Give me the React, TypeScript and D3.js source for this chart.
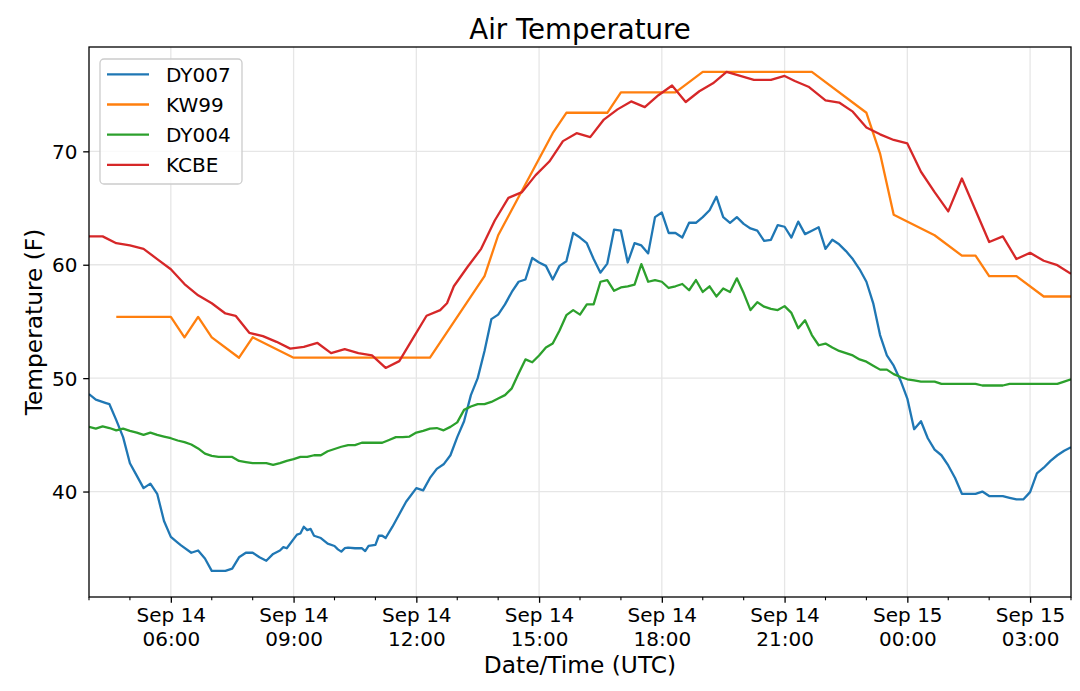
import * as d3 from 'd3';
import React, { FC, useEffect, useRef } from 'react';

// times are "DD HH:MM" in September, UTC
const dy007Times = [
	'14 04:00', '14 04:10', '14 04:25', '14 04:30', '14 04:40', '14 04:50', '14 05:00', '14 05:10', '14 05:20', '14 05:30',
	'14 05:40', '14 05:50', '14 06:00', '14 06:10', '14 06:15', '14 06:30', '14 06:40', '14 06:50', '14 07:00', '14 07:20',
	'14 07:30', '14 07:40', '14 07:50', '14 08:00', '14 08:10', '14 08:20', '14 08:30', '14 08:40', '14 08:45', '14 08:50',
	'14 09:00', '14 09:05', '14 09:10', '14 09:15', '14 09:20', '14 09:25', '14 09:30', '14 09:40', '14 09:50', '14 10:00',
	'14 10:05', '14 10:10', '14 10:15', '14 10:20', '14 10:30', '14 10:40', '14 10:45', '14 10:50', '14 11:00', '14 11:05',
	'14 11:10', '14 11:15', '14 11:25', '14 11:35', '14 11:45', '14 12:00', '14 12:10', '14 12:20', '14 12:30', '14 12:40',
	'14 12:50', '14 13:00', '14 13:10', '14 13:20', '14 13:30', '14 13:40', '14 13:50', '14 14:00', '14 14:10', '14 14:20',
	'14 14:30', '14 14:40', '14 14:50', '14 15:00', '14 15:10', '14 15:20', '14 15:30', '14 15:40', '14 15:50', '14 16:00',
	'14 16:10', '14 16:20', '14 16:30', '14 16:40', '14 16:50', '14 17:00', '14 17:10', '14 17:20', '14 17:30', '14 17:40',
	'14 17:50', '14 18:00', '14 18:10', '14 18:20', '14 18:30', '14 18:40', '14 18:50', '14 19:00', '14 19:10', '14 19:20',
	'14 19:30', '14 19:40', '14 19:50', '14 20:00', '14 20:10', '14 20:20', '14 20:30', '14 20:40', '14 20:50', '14 21:00',
	'14 21:10', '14 21:20', '14 21:30', '14 21:40', '14 21:50', '14 22:00', '14 22:10', '14 22:20', '14 22:30', '14 22:40',
	'14 22:50', '14 23:00', '14 23:10', '14 23:20', '14 23:30', '14 23:40', '14 23:50', '15 00:00', '15 00:10', '15 00:20',
	'15 00:30', '15 00:40', '15 00:50', '15 01:00', '15 01:10', '15 01:20', '15 01:40', '15 01:50', '15 02:00', '15 02:20',
	'15 02:30', '15 02:40', '15 02:50', '15 03:00', '15 03:10', '15 03:20', '15 03:30', '15 03:40', '15 03:50', '15 04:00',
];
const dy007Temps = [
	48.6, 48.1, 47.8, 47.7, 46.3, 44.8, 42.5, 41.4, 40.3, 40.7,
	39.8, 37.4, 36.0, 35.5, 35.25, 34.6, 34.8, 34.1, 33.0, 33.0,
	33.2, 34.2, 34.6, 34.6, 34.2, 33.9, 34.5, 34.8, 35.1, 35.0,
	35.8, 36.2, 36.3, 36.9, 36.6, 36.7, 36.1, 35.9, 35.4, 35.2,
	34.9, 34.7, 35.0, 35.05, 35.0, 35.0, 34.75, 35.2, 35.3, 36.1,
	36.1, 35.9, 36.9, 38.0, 39.1, 40.3, 40.1, 41.2, 42.0, 42.4,
	43.2, 44.8, 46.2, 48.5, 50.0, 52.4, 55.2, 55.6, 56.5, 57.6,
	58.5, 58.7, 60.6, 60.2, 59.9, 58.7, 59.9, 60.3, 62.8, 62.4,
	61.9, 60.5, 59.3, 60.1, 63.1, 63.0, 60.2, 61.9, 61.7, 61.0,
	64.2, 64.6, 62.8, 62.8, 62.4, 63.7, 63.7, 64.2, 64.8, 66.0,
	64.2, 63.7, 64.2, 63.6, 63.2, 63.0, 62.1, 62.2, 63.5, 63.35,
	62.4, 63.8, 62.7, 63.0, 63.3, 61.4, 62.2, 61.8, 61.2, 60.5,
	59.6, 58.5, 56.6, 53.8, 52.0, 51.1, 49.8, 48.2, 45.5, 46.2,
	44.7, 43.7, 43.2, 42.3, 41.2, 39.8, 39.8, 40.0, 39.6, 39.6,
	39.45, 39.3, 39.3, 39.95, 41.6, 42.1, 42.7, 43.2, 43.6, 43.9,
];

const kw99Times = [
	'14 04:40', '14 06:00', '14 06:20', '14 06:40', '14 07:00', '14 07:40', '14 08:00', '14 09:00', '14 12:20', '14 13:40',
	'14 14:00', '14 15:20', '14 15:40', '14 16:40', '14 17:00', '14 18:20', '14 19:00', '14 21:40', '14 23:00', '14 23:20',
	'14 23:40', '15 00:40', '15 01:20', '15 01:40', '15 02:00', '15 02:40', '15 03:20', '15 04:00',
];
const kw99Temps = [
	55.4, 55.4, 53.6, 55.4, 53.6, 51.8, 53.6, 51.8, 51.8, 59.0,
	62.6, 71.6, 73.4, 73.4, 75.2, 75.2, 77.0, 77.0, 73.4, 69.8,
	64.4, 62.6, 60.8, 60.8, 59.0, 59.0, 57.2, 57.2,
];

const dy004Times = [
	'14 04:00', '14 04:10', '14 04:20', '14 04:30', '14 04:40', '14 04:50', '14 05:00', '14 05:10', '14 05:20', '14 05:30',
	'14 05:40', '14 05:50', '14 06:00', '14 06:10', '14 06:20', '14 06:30', '14 06:40', '14 06:50', '14 07:00', '14 07:10',
	'14 07:30', '14 07:40', '14 07:50', '14 08:00', '14 08:20', '14 08:30', '14 08:40', '14 08:50', '14 09:00', '14 09:10',
	'14 09:20', '14 09:30', '14 09:40', '14 09:50', '14 10:00', '14 10:10', '14 10:20', '14 10:30', '14 10:40', '14 11:10',
	'14 11:20', '14 11:30', '14 11:40', '14 11:50', '14 12:00', '14 12:10', '14 12:20', '14 12:30', '14 12:40', '14 12:50',
	'14 13:00', '14 13:10', '14 13:20', '14 13:30', '14 13:40', '14 13:50', '14 14:00', '14 14:10', '14 14:20', '14 14:30',
	'14 14:40', '14 14:50', '14 15:00', '14 15:10', '14 15:20', '14 15:30', '14 15:40', '14 15:50', '14 16:00', '14 16:10',
	'14 16:20', '14 16:30', '14 16:40', '14 16:50', '14 17:00', '14 17:10', '14 17:20', '14 17:30', '14 17:40', '14 17:50',
	'14 18:00', '14 18:10', '14 18:20', '14 18:30', '14 18:40', '14 18:50', '14 19:00', '14 19:10', '14 19:20', '14 19:30',
	'14 19:40', '14 19:50', '14 20:00', '14 20:10', '14 20:20', '14 20:30', '14 20:40', '14 20:50', '14 21:00', '14 21:10',
	'14 21:20', '14 21:30', '14 21:40', '14 21:50', '14 22:00', '14 22:10', '14 22:20', '14 22:30', '14 22:40', '14 22:50',
	'14 23:00', '14 23:10', '14 23:20', '14 23:30', '14 23:40', '14 23:50', '15 00:00', '15 00:10', '15 00:20', '15 00:40',
	'15 00:50', '15 01:40', '15 01:50', '15 02:20', '15 02:30', '15 03:40', '15 03:50', '15 04:00',
];
const dy004Temps = [
	45.7, 45.55, 45.75, 45.6, 45.4, 45.55, 45.35, 45.2, 45.0, 45.2,
	45.0, 44.85, 44.7, 44.5, 44.35, 44.15, 43.8, 43.35, 43.15, 43.05,
	43.05, 42.7, 42.6, 42.5, 42.5, 42.35, 42.5, 42.7, 42.85, 43.05,
	43.05, 43.2, 43.2, 43.55, 43.75, 43.95, 44.1, 44.1, 44.3, 44.3,
	44.55, 44.8, 44.8, 44.85, 45.2, 45.35, 45.55, 45.6, 45.4, 45.7,
	46.1, 47.2, 47.5, 47.7, 47.7, 47.9, 48.2, 48.5, 49.1, 50.4,
	51.65, 51.4, 52.0, 52.7, 53.05, 54.2, 55.55, 56.0, 55.6, 56.5,
	56.5, 58.5, 58.65, 57.7, 58.0, 58.1, 58.25, 60.05, 58.5, 58.65,
	58.5, 57.95, 58.1, 58.3, 57.75, 58.65, 57.6, 58.1, 57.2, 57.9,
	57.6, 58.8, 57.5, 56.0, 56.7, 56.3, 56.1, 56.0, 56.35, 55.75,
	54.4, 55.1, 53.8, 52.9, 53.05, 52.7, 52.4, 52.2, 52.0, 51.65,
	51.45, 51.1, 50.75, 50.75, 50.35, 50.1, 49.9, 49.8, 49.7, 49.7,
	49.5, 49.5, 49.35, 49.35, 49.5, 49.5, 49.7, 49.9,
];

const kcbeTimes = [
	'14 04:00', '14 04:20', '14 04:40', '14 05:00', '14 05:20', '14 05:40', '14 06:00', '14 06:20', '14 06:40', '14 07:00',
	'14 07:20', '14 07:35', '14 07:55', '14 08:15', '14 08:35', '14 08:55', '14 09:15', '14 09:35', '14 09:55', '14 10:15',
	'14 10:35', '14 10:55', '14 11:15', '14 11:35', '14 11:55', '14 12:15', '14 12:35', '14 12:45', '14 12:55', '14 13:15',
	'14 13:35', '14 13:55', '14 14:15', '14 14:35', '14 14:55', '14 15:15', '14 15:35', '14 15:55', '14 16:15', '14 16:35',
	'14 16:55', '14 17:15', '14 17:35', '14 17:55', '14 18:15', '14 18:35', '14 18:55', '14 19:15', '14 19:35', '14 19:55',
	'14 20:15', '14 20:40', '14 21:00', '14 21:15', '14 21:35', '14 22:00', '14 22:20', '14 22:40', '14 23:00', '14 23:20',
	'14 23:40', '15 00:00', '15 00:20', '15 00:40', '15 01:00', '15 01:20', '15 01:40', '15 02:00', '15 02:20', '15 02:40',
	'15 03:00', '15 03:20', '15 03:40', '15 04:00',
];
const kcbeTemps = [
	62.5, 62.5, 61.9, 61.7, 61.4, 60.5, 59.6, 58.3, 57.3, 56.6,
	55.7, 55.5, 54.0, 53.7, 53.2, 52.6, 52.75, 53.1, 52.2, 52.55,
	52.2, 52.0, 50.9, 51.5, 53.5, 55.5, 56.0, 56.6, 58.1, 59.8,
	61.4, 63.9, 65.9, 66.4, 67.9, 69.1, 70.9, 71.6, 71.25, 72.8,
	73.7, 74.4, 73.9, 74.95, 75.8, 74.35, 75.3, 76.0, 77.0, 76.65,
	76.3, 76.3, 76.65, 76.2, 75.7, 74.5, 74.3, 73.5, 72.1, 71.5,
	71.0, 70.7, 68.2, 66.4, 64.7, 67.6, 64.8, 62.0, 62.5, 60.5,
	61.05, 60.35, 59.96, 59.2,
];

const seriesNames = ['DY007', 'KW99', 'DY004', 'KCBE'];
const seriesColors = ['#1f77b4', '#ff7f0e', '#2ca02c', '#d62728'];
const yTicks = [40, 50, 60, 70];

const parseTime = (t: string) => d3.utcParse('%Y-%m-%d %H:%M')(`2019-09-${t}`) as Date;

const App: FC = () => {
	const svgRef = useRef<SVGSVGElement>(null);
	const width = 1080;
	const height = 691;
	const margin = { top: 47, right: 9, bottom: 94, left: 89 };

	useEffect(() => {
		const svg = d3.select(svgRef.current);
		svg.selectAll('*').remove();
		const font = "'DejaVu Sans', sans-serif";

		const series = [
			[dy007Times, dy007Temps],
			[kw99Times, kw99Temps],
			[dy004Times, dy004Temps],
			[kcbeTimes, kcbeTemps],
		].map(([times, temps]: any, i) => ({
			name: seriesNames[i],
			color: seriesColors[i],
			points: times.map((t: string, j: number) => [parseTime(t), temps[j]] as [Date, number]),
		}));

		const t0 = parseTime('14 04:00');
		const t1 = parseTime('15 04:00');
		const x = d3.scaleUtc().domain([t0, t1]).range([margin.left, width - margin.right]);
		const y = d3.scaleLinear().domain([30.7, 79.2]).range([height - margin.bottom, margin.top]);
		const x0 = margin.left;
		const x1 = width - margin.right;
		const y0 = height - margin.bottom;
		const y1 = margin.top;

		svg.append('rect').attr('width', width).attr('height', height).attr('fill', '#fff');

		const majors = (d3.utcHour.every(3) as any).range(t0, t1) as Date[];
		const minors = d3.utcHour
			.range(t0, new Date(+t1 + 1))
			.filter(d => !majors.some(m => +m === +d));

		// grid
		const grid = svg.append('g').attr('stroke', '#e6e6e6').attr('stroke-width', 1.3);
		grid.selectAll('line.vx')
			.data(majors)
			.join('line')
			.attr('x1', d => x(d))
			.attr('x2', d => x(d))
			.attr('y1', y1)
			.attr('y2', y0);
		grid.selectAll('line.hy')
			.data(yTicks)
			.join('line')
			.attr('x1', x0)
			.attr('x2', x1)
			.attr('y1', d => y(d))
			.attr('y2', d => y(d));

		svg.append('clipPath')
			.attr('id', 'plot-clip')
			.append('rect')
			.attr('x', x0)
			.attr('y', y1)
			.attr('width', x1 - x0)
			.attr('height', y0 - y1);

		const line = d3
			.line<[Date, number]>()
			.x(d => x(d[0]))
			.y(d => y(d[1]));

		svg.append('g')
			.attr('clip-path', 'url(#plot-clip)')
			.selectAll('path')
			.data(series)
			.join('path')
			.attr('d', d => line(d.points))
			.attr('fill', 'none')
			.attr('stroke', d => d.color)
			.attr('stroke-width', 2.3)
			.attr('stroke-linejoin', 'round');

		// x axis
		const xAxis = svg
			.append('g')
			.attr('transform', `translate(0,${y0})`)
			.call(
				d3
					.axisBottom(x)
					.tickValues(majors)
					.tickSize(5.8)
					.tickSizeOuter(0)
					.tickFormat(() => '')
			);
		xAxis.select('.domain').remove();
		xAxis.selectAll('.tick line').attr('stroke', '#000').attr('stroke-width', 1.3);
		xAxis.selectAll('.tick text').remove();
		xAxis.selectAll('.tick')
			.append('text')
			.attr('text-anchor', 'middle')
			.attr('fill', '#000')
			.attr('font-family', font)
			.attr('font-size', 20)
			.each(function (d: any) {
				const t = d3.select(this);
				t.append('tspan').attr('x', 0).attr('y', 25).text(d3.utcFormat('%b %d')(d));
				t.append('tspan').attr('x', 0).attr('y', 48.5).text(d3.utcFormat('%H:%M')(d));
			});
		svg.append('g')
			.selectAll('line')
			.data(minors)
			.join('line')
			.attr('x1', d => x(d))
			.attr('x2', d => x(d))
			.attr('y1', y0)
			.attr('y2', y0 + 3.3)
			.attr('stroke', '#000')
			.attr('stroke-width', 1.1);

		// y axis
		const yAxis = svg
			.append('g')
			.attr('transform', `translate(${x0},0)`)
			.call(d3.axisLeft(y).tickValues(yTicks).tickSize(5.8).tickPadding(5.8).tickSizeOuter(0));
		yAxis.select('.domain').remove();
		yAxis.selectAll('.tick line').attr('stroke', '#000').attr('stroke-width', 1.3);
		yAxis.selectAll('.tick text')
			.attr('fill', '#000')
			.attr('font-family', font)
			.attr('font-size', 20)
			.attr('dy', '0.36em');

		// frame
		svg.append('rect')
			.attr('x', x0)
			.attr('y', y1)
			.attr('width', x1 - x0)
			.attr('height', y0 - y1)
			.attr('fill', 'none')
			.attr('stroke', '#000')
			.attr('stroke-width', 1.3);

		// legend
		const legend = svg.append('g');
		legend.append('rect')
			.attr('x', 100)
			.attr('y', 59)
			.attr('width', 142)
			.attr('height', 125)
			.attr('rx', 4)
			.attr('fill', '#fff')
			.attr('fill-opacity', 0.8)
			.attr('stroke', '#cccccc')
			.attr('stroke-width', 1.3);
		const items = legend
			.selectAll('g.item')
			.data(series)
			.join('g')
			.attr('transform', (d, i) => `translate(0,${74.3 + i * 30.2})`);
		items.append('line')
			.attr('x1', 107)
			.attr('x2', 149)
			.attr('stroke', d => d.color)
			.attr('stroke-width', 2.3);
		items.append('text')
			.attr('x', 166)
			.attr('y', 7.3)
			.attr('font-family', font)
			.attr('font-size', 20)
			.attr('fill', '#000')
			.text(d => d.name);

		// labels
		svg.append('text')
			.attr('x', (x0 + x1) / 2)
			.attr('y', 38.5)
			.attr('text-anchor', 'middle')
			.attr('font-family', font)
			.attr('font-size', 27.6)
			.text('Air Temperature');
		svg.append('text')
			.attr('x', (x0 + x1) / 2)
			.attr('y', 673)
			.attr('text-anchor', 'middle')
			.attr('font-family', font)
			.attr('font-size', 23.3)
			.text('Date/Time (UTC)');
		svg.append('text')
			.attr('transform', `translate(42,${(y0 + y1) / 2}) rotate(-90)`)
			.attr('text-anchor', 'middle')
			.attr('font-family', font)
			.attr('font-size', 23.3)
			.text('Temperature (F)');
	}, []);

	return (
		<div style={{ position: 'absolute', left: 0, top: 0 }}>
			<svg ref={svgRef} width={width} height={height} style={{ display: 'block' }} />
		</div>
	);
};

export default App;
